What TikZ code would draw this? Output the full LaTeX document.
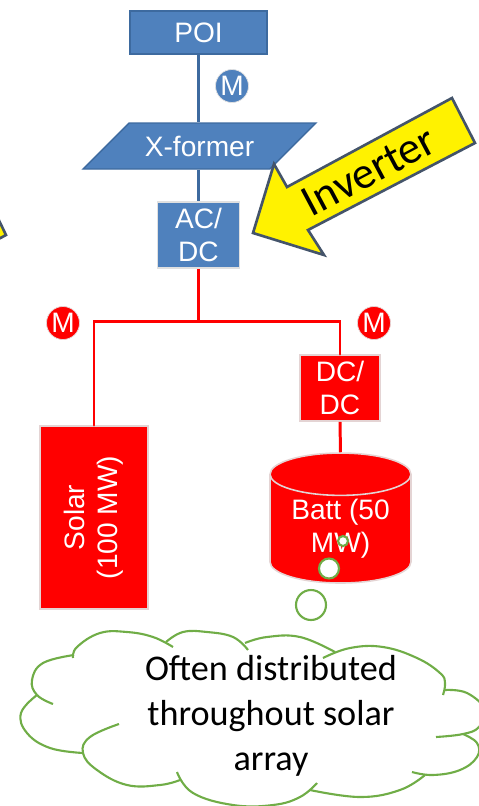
\documentclass[tikz,border=0pt]{standalone}
\usepackage{fontspec}
\setmainfont{Liberation Sans}
\newfontfamily\calloutfont{Carlito}
\usetikzlibrary{shapes.geometric}
\definecolor{boxblue}{HTML}{4F81BD}
\definecolor{edgeblue}{HTML}{3D6A9F}
\definecolor{arrowedge}{HTML}{44546A}
\definecolor{cloudgreen}{HTML}{70AD47}
\definecolor{softedge}{HTML}{E4D4D4}
\tikzset{
  boxtext/.style={font=\fontsize{16}{19}\selectfont, text=white, align=center, inner sep=0pt},
  bluebox/.style={boxtext, fill=boxblue, draw=edgeblue, line width=0.8pt},
  redbox/.style={boxtext, fill=red, draw=softedge, line width=0.9pt},
  blueline/.style={edgeblue, line width=1.7pt},
  redline/.style={red, line width=1.7pt},
  meter/.style={circle, boxtext, minimum size=0.66cm},
  cloudline/.style={cloudgreen, line width=1.2pt},
  thought/.style={circle, draw=cloudgreen, fill=white, line width=1.2pt, inner sep=0pt}
}
\begin{document}
\begin{tikzpicture}[x=0.02cm,y=-0.02cm]
\useasboundingbox (0,0) rectangle (479,806);
\clip (0,0) rectangle (479,806);

\coordinate (busmid) at (198.5,321);
\coordinate (busleft) at (94,321);
\coordinate (busright) at (340,321);

\node [bluebox, minimum width=2.74cm, minimum height=0.86cm] (poi) at (198.5,32.5) {POI};
\node [bluebox, trapezium, trapezium left angle=30, trapezium right angle=150, minimum height=0.92cm, minimum width=4.66cm, trapezium stretches=true] (xformer) at (199.5,146) {X-former};
\node [boxtext, fill=boxblue, draw=black!12, line width=1pt, minimum width=1.64cm, minimum height=1.32cm] (acdc) at (198.5,235) {AC/\\DC};
\node [redbox, minimum width=1.6cm, minimum height=1.32cm] (dcdc) at (340,388) {DC/\\DC};
\node [redbox, rotate=90, minimum width=3.66cm, minimum height=2.16cm] (solar) at (94,517.5) {Solar\\(100 MW)};
\node [redbox, cylinder, shape border rotate=90, aspect=0.43, minimum width=2.82cm, minimum height=2.6cm] (batt) at (340.5,529) {Batt (50\\MW)};

\node [meter, fill=boxblue, draw=black!12] (mtop) at (232,86) {M};
\node [meter, fill=red, draw=softedge] (mleft) at (63,323) {M};
\node [meter, fill=red, draw=softedge] (mright) at (374,323) {M};

\draw [blueline] (poi.south) -- (poi.south |- xformer.north);
\draw [blueline] (acdc.north |- xformer.south) -- (acdc.north);
\draw [redline] (acdc.south) -- (busmid);
\draw [redline, line cap=round] (solar.east) -- (busleft) -- (busright) -- (dcdc.north);
\draw [redline] (dcdc.south) -- (batt.north);

% callout arrow
\coordinate (A) at (253,233);
\coordinate (B) at (274,164);
\coordinate (C) at (287,187);
\coordinate (D) at (452,98);
\coordinate (E) at (475,143);
\coordinate (F) at (308,230);
\coordinate (G) at (324,255);
\draw [arrowedge, fill=yellow, line width=1.5pt, line join=miter]
(A)--(B)--(C)--(D)--(E)--(F)--(G)--cycle;
\node [rotate=28, inner sep=0pt, font=\calloutfont\fontsize{25.5}{30}\selectfont] (inverter) at (369,171) {Inverter};
\draw [arrowedge, fill=yellow, line width=1.5pt] (-6,210)--(6,235)--(-20,249)--cycle;

% thought bubble
\node [thought, minimum size=0.2cm] (bubblea) at (343,541) {};
\node [thought, minimum size=0.4cm] (bubbleb) at (329,568.5) {};
\node [thought, minimum size=0.6cm] (bubblec) at (311,605) {};

\draw [cloudline] plot [smooth, tension=0.7] coordinates {(53,704) (37,695) (32,680) (43,663) (74,655)};
\draw [cloudline] plot [smooth, tension=0.7] coordinates {(73,658) (77,647) (100,633) (127,632) (153,637) (173,647)};
\draw [cloudline] plot [smooth, tension=0.7] coordinates {(166,642) (183,632) (207,632) (233,637) (248,650)};
\draw [cloudline] plot [smooth, tension=0.7] coordinates {(245,643) (267,637) (300,637) (335,652)};
\draw [cloudline] plot [smooth, tension=0.7] coordinates {(323,658) (350,648) (383,647) (417,658) (440,673) (445,683) (443,695)};
\draw [cloudline] plot [smooth, tension=0.7] coordinates {(445,690) (467,693) (485,710) (479,727) (463,734) (436,737)};
\draw [cloudline] plot [smooth, tension=0.7] coordinates {(463,734) (477,743) (477,757) (460,770) (433,775) (412,772)};
\draw [cloudline] plot [smooth, tension=0.7] coordinates {(425,775) (400,790) (360,797) (310,790)};
\draw [cloudline] plot [smooth, tension=0.7] coordinates {(317,783) (300,797) (273,805) (233,805) (193,793) (177,772)};
\draw [cloudline] plot [smooth, tension=0.7] coordinates {(180,780) (160,785) (127,785) (97,770) (83,753) (90,737) (119,724)};
\draw [cloudline] plot [smooth, tension=0.7] coordinates {(83,753) (50,748) (27,733) (21,713) (37,695)};
\node [align=center, inner sep=0pt, font=\calloutfont\fontsize{20.6}{25.6}\selectfont] (cloudtext) at (271,716) {Often distributed\\throughout solar\\array};
\end{tikzpicture}
\end{document}
